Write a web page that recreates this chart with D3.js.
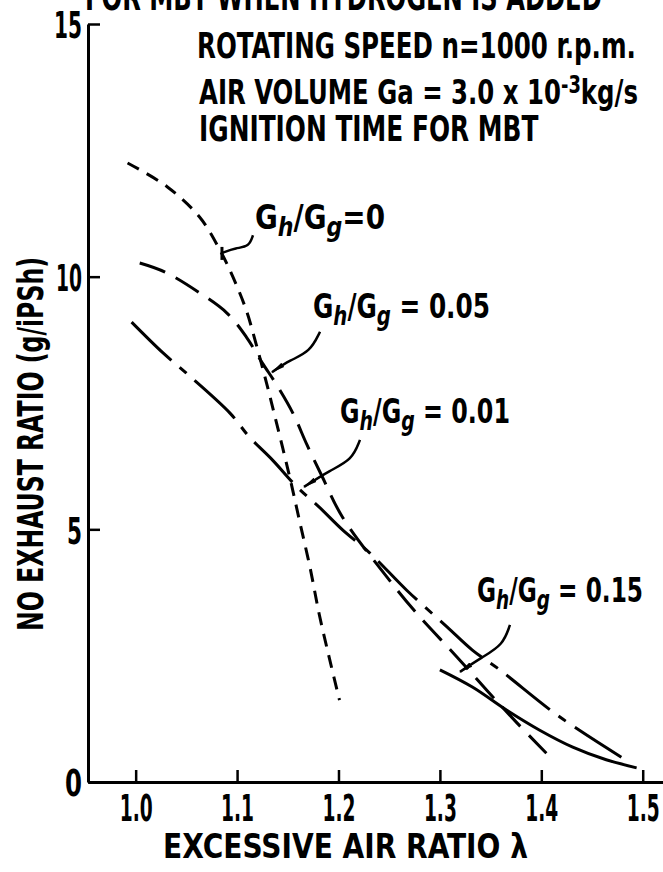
<!DOCTYPE html>
<html><head><meta charset="utf-8">
<script src="https://cdn.jsdelivr.net/npm/d3@7"></script>
<style>
body{margin:0;background:#fff;}
svg{display:block;background:#fff;}
text{font-family:"Liberation Sans Narrow","DejaVu Sans Condensed","Liberation Sans","DejaVu Sans",sans-serif;font-weight:bold;fill:#000;}
</style></head><body>
<svg id="c" width="663" height="872"></svg>
<script>
// ---- data ----
const xTicks = [1.0, 1.1, 1.2, 1.3, 1.4, 1.5];
const yTicks = [0, 5, 10, 15];

// Gh/Gg = 0 (short dash)
const lam0 = [0.992,1.031,1.063,1.083,1.096,1.109,1.119,1.129,1.137,1.145,1.153,1.162,1.172,1.181,1.191,1.201];
const no0  = [12.25,11.78,11.18,10.53,9.99,9.34,8.65,7.90,7.26,6.61,5.94,5.13,4.24,3.32,2.45,1.62];
// Gh/Gg = 0.05 (long dash)
const lam05 = [1.004,1.029,1.063,1.090,1.109,1.125,1.139,1.155,1.169,1.184,1.204,1.250,1.277,1.317,1.346,1.376,1.405];
const no05  = [10.27,10.09,9.68,9.28,8.81,8.29,7.86,7.30,6.67,6.04,5.24,4.00,3.34,2.47,1.82,1.17,0.57];
// Gh/Gg = 0.01 (dash-dot)
const lam01 = [0.996,1.027,1.050,1.093,1.112,1.135,1.159,1.181,1.204,1.231,1.267,1.307,1.332,1.359,1.418,1.479];
const no01  = [9.10,8.49,8.09,7.30,6.83,6.37,5.84,5.44,4.99,4.53,3.80,3.07,2.61,2.22,1.29,0.49];
// Gh/Gg = 0.15 (solid)
const lam15 = [1.300,1.332,1.366,1.398,1.431,1.464,1.494];
const no15  = [2.22,1.88,1.42,1.03,0.69,0.44,0.28];

const seriesNames = ["0", "0.05", "0.01", "0.15"];
// label anchor (lambda, NO) and leader points
const labelLam = [1.1177, 1.1749, 1.2015, 1.3366];
const labelNo  = [10.94, 9.18, 7.10, 3.56];
const leader0  = [[1.1157,10.82],[1.1118,10.59],[1.0989,10.57],[1.0851,10.47]];
const leader05 = [[1.1818,8.91],[1.1719,8.51],[1.1522,8.35],[1.1344,8.11]];
const leader01 = [[1.2212,6.77],[1.2133,6.37],[1.1916,6.17],[1.1660,5.84]];
const leader15 = [[1.3691,3.11],[1.3622,2.71],[1.3415,2.47],[1.3198,2.18]];

const svg = d3.select("#c");
const x = d3.scaleLinear().domain([0.953, 1.52]).range([88, 663]);
const y = d3.scaleLinear().domain([0, 15]).range([782, 24]);

function fit(textSel, w){
  const bb = textSel.node().getBBox();
  const sx = w / bb.width;
  const prev = textSel.attr("transform") || "";
  textSel.attr("transform", prev + ` scale(${sx},1)`);
}

// ---- title (cut off at top) ----
const tg = svg.append("g").attr("transform","translate(85,10)");
fit(tg.append("text").attr("font-size",38).text("FOR MBT WHEN HYDROGEN IS ADDED"), 517);

// ---- conditions text ----
const l1 = svg.append("g").attr("transform","translate(197,58)");
fit(l1.append("text").attr("font-size",35).text("ROTATING  SPEED n=1000 r.p.m."), 439);
const l2 = svg.append("g").attr("transform","translate(199,104)");
const t2 = l2.append("text").attr("font-size",34);
t2.append("tspan").text("AIR VOLUME Ga = 3.0 x 10");
t2.append("tspan").attr("font-size",25).attr("dy",-11).text("-3");
t2.append("tspan").attr("dy",11).text("kg/s");
fit(t2, 439);
const l3 = svg.append("g").attr("transform","translate(199,141)");
fit(l3.append("text").attr("font-size",35).text("IGNITION  TIME FOR MBT"), 340);

// ---- axes ----
const gx = svg.append("g").attr("transform",`translate(0,${y(0)})`)
  .call(d3.axisBottom(x).tickValues(xTicks).tickFormat(d3.format(".1f"))
    .tickSizeInner(-12).tickSizeOuter(0).tickPadding(0));
gx.attr("font-family",null).attr("font-size",null);
gx.select(".domain").attr("stroke","#000").attr("stroke-width",3);
gx.selectAll(".tick line").attr("stroke","#000").attr("stroke-width",2.5);
gx.selectAll(".tick text").attr("font-size",37).attr("y",39).attr("dy",0)
  .each(function(){ fit(d3.select(this), 33); });

const gy = svg.append("g").attr("transform",`translate(${x(0.953)},0)`)
  .call(d3.axisLeft(y).tickValues(yTicks).tickFormat(d3.format("d"))
    .tickSizeInner(-12).tickSizeOuter(0).tickPadding(0));
gy.attr("font-family",null).attr("font-size",null);
gy.select(".domain").attr("stroke","#000").attr("stroke-width",3);
gy.selectAll(".tick line").attr("stroke","#000").attr("stroke-width",2.5);
const yW = {0:17,5:15,10:26,15:28};
gy.selectAll(".tick text").attr("font-size",38).attr("x",0).attr("dy","0.36em")
  .attr("transform","translate(-6,0)")
  .each(function(d){ fit(d3.select(this), yW[d]); });

// axis titles
const yl = svg.append("g").attr("transform","translate(43,444) rotate(-90)");
fit(yl.append("text").attr("font-size",36).attr("text-anchor","middle").text("NO EXHAUST RATIO (g/iPSh)"), 374);
const xl = svg.append("g").attr("transform","translate(345.5,858)");
fit(xl.append("text").attr("font-size",33).attr("text-anchor","middle").text("EXCESSIVE AIR RATIO λ"), 365);

// ---- curves ----
const line = d3.line().x(d=>x(d[0])).y(d=>y(d[1])).curve(d3.curveCatmullRom.alpha(0.5));
const series = [
  {lam:lam0,  no:no0,  dash:"13,9"},
  {lam:lam05, no:no05, dash:"27,12"},
  {lam:lam01, no:no01, dash:"55,11,9,11"},
  {lam:lam15, no:no15, dash:null}
];
svg.append("g").selectAll("path").data(series).join("path")
  .attr("d", s => line(s.lam.map((l,i)=>[l, s.no[i]])))
  .attr("fill","none").attr("stroke","#000").attr("stroke-width",3)
  .attr("stroke-dasharray", s => s.dash);

// ---- labels with leaders ----
const defs = svg.append("defs");
defs.append("marker").attr("id","arr").attr("markerUnits","userSpaceOnUse")
  .attr("markerWidth",16).attr("markerHeight",12).attr("refX",13).attr("refY",5)
  .attr("orient","auto")
  .append("path").attr("d","M0,2.5 L14,5 L0,7.5 Z").attr("fill","#000");

const leaders = [leader0, leader05, leader01, leader15];
const lline = d3.line().x(d=>x(d[0])).y(d=>y(d[1])).curve(d3.curveBasis);
leaders.forEach((L,i)=>{
  svg.append("path").attr("d", lline(L)).attr("fill","none").attr("stroke","#000")
    .attr("stroke-width",2.5).attr("marker-end", i===0 ? null : "url(#arr)");
});
// T-bar at end of first leader
{
  const e = leader0[leader0.length-1];
  svg.append("line").attr("x1",x(e[0])).attr("x2",x(e[0]))
    .attr("y1",y(e[1])-6).attr("y2",y(e[1])+7).attr("stroke","#000").attr("stroke-width",3);
}

const labelW = [130, 177, 170, 166];
seriesNames.forEach((nm,i)=>{
  const g = svg.append("g").attr("transform",`translate(${x(labelLam[i])},${y(labelNo[i])})`);
  const t = g.append("text").attr("font-size",34);
  t.append("tspan").text("G");
  t.append("tspan").attr("font-size",27).attr("dy",7).attr("font-style","italic").text("h");
  t.append("tspan").attr("dy",-7).text("/G");
  t.append("tspan").attr("font-size",27).attr("dy",7).attr("font-style","italic").text("g");
  t.append("tspan").attr("dy",-7).text(i===0 ? "=0" : " = " + nm);
  fit(t, labelW[i]);
});
</script>
</body></html>
